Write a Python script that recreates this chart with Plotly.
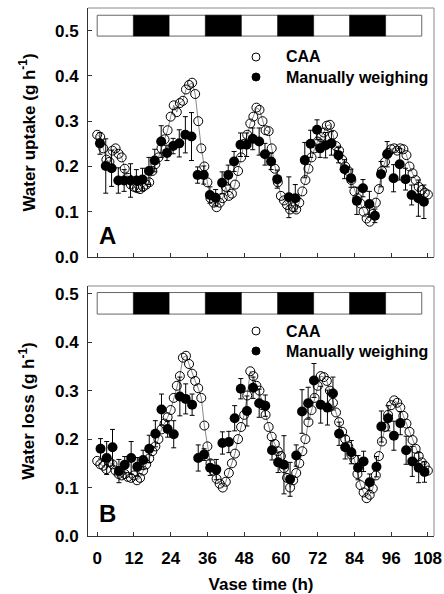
import plotly.graph_objects as go

# ---------------- data ----------------
caa_hours = list(range(0, 109))

caa_uptake = [0.270, 0.265, 0.240, 0.215, 0.210, 0.235, 0.240, 0.228, 0.220, 0.195,
              0.175, 0.160, 0.155, 0.152, 0.150, 0.155, 0.160, 0.165, 0.190, 0.205,
              0.220, 0.240, 0.260, 0.280, 0.310, 0.335, 0.320, 0.340, 0.345, 0.370,
              0.380, 0.385, 0.360, 0.300, 0.240, 0.200, 0.165, 0.130, 0.120, 0.110,
              0.120, 0.130, 0.155, 0.135, 0.140, 0.160, 0.190, 0.220, 0.250, 0.270,
              0.295, 0.310, 0.330, 0.325, 0.300, 0.280, 0.278, 0.240, 0.195, 0.165,
              0.135, 0.125, 0.115, 0.105, 0.110, 0.105, 0.120, 0.145, 0.170, 0.195,
              0.220, 0.240, 0.255, 0.265, 0.275, 0.290, 0.292, 0.270, 0.245, 0.235,
              0.215, 0.200, 0.190, 0.170, 0.145, 0.130, 0.118, 0.100, 0.085, 0.078,
              0.095, 0.120, 0.150, 0.190, 0.210, 0.230, 0.238, 0.240, 0.235, 0.240,
              0.238, 0.225, 0.200, 0.185, 0.170, 0.155, 0.148, 0.142, 0.138]

caa_loss = [0.155, 0.148, 0.145, 0.138, 0.152, 0.148, 0.135, 0.128, 0.125, 0.128,
            0.122, 0.120, 0.125, 0.115, 0.120, 0.135, 0.148, 0.160, 0.175, 0.185,
            0.200, 0.220, 0.232, 0.245, 0.260, 0.285, 0.310, 0.330, 0.368, 0.372,
            0.355, 0.335, 0.320, 0.305, 0.285, 0.228, 0.185, 0.150, 0.135, 0.118,
            0.108, 0.100, 0.112, 0.130, 0.150, 0.170, 0.200, 0.225, 0.250, 0.290,
            0.340, 0.330, 0.310, 0.300, 0.270, 0.250, 0.225, 0.205, 0.190, 0.175,
            0.165, 0.140, 0.120, 0.100, 0.115, 0.130, 0.150, 0.175, 0.200, 0.235,
            0.260, 0.285, 0.310, 0.330, 0.328, 0.320, 0.300, 0.275, 0.255, 0.235,
            0.215, 0.200, 0.185, 0.168, 0.158, 0.128, 0.105, 0.090, 0.078, 0.085,
            0.098, 0.125, 0.165, 0.195, 0.225, 0.250, 0.270, 0.280, 0.275, 0.265,
            0.248, 0.232, 0.215, 0.198, 0.180, 0.165, 0.152, 0.145, 0.135]

man_hours_uptake = [0.9, 2.8, 4.7, 6.9, 8.8, 10.9, 12.8, 14.8, 16.9, 18.8,
                    20.9, 22.8, 24.8, 26.8, 28.8, 30.8, 32.8, 34.8, 36.8, 38.7,
                    40.8, 42.8, 44.7, 46.8, 48.8, 50.8, 52.9, 54.8, 56.8, 58.8,
                    62.6, 64.7, 67.8, 69.7, 71.8, 72.8, 74.6, 76.5, 78.8, 80.8,
                    82.9, 84.8, 86.8, 88.9, 90.7, 92.7, 94.7, 96.8, 98.8, 100.7,
                    102.7, 104.9, 106.7]
man_uptake = [0.251, 0.201, 0.196, 0.169, 0.169, 0.169, 0.169, 0.171, 0.190, 0.213,
              0.255, 0.230, 0.245, 0.251, 0.270, 0.266, 0.181, 0.181, 0.137, 0.131,
              0.164, 0.181, 0.211, 0.248, 0.248, 0.261, 0.255, 0.227, 0.211, 0.172,
              0.132, 0.130, 0.214, 0.250, 0.281, 0.240, 0.247, 0.251, 0.225, 0.194,
              0.174, 0.124, 0.152, 0.117, 0.091, 0.183, 0.227, 0.174, 0.205, 0.172,
              0.137, 0.130, 0.122]
man_uptake_err = [0.024, 0.060, 0.040, 0.028, 0.024, 0.037, 0.024, 0.025, 0.030, 0.025,
                  0.035, 0.017, 0.017, 0.030, 0.040, 0.053, 0.018, 0.020, 0.018, 0.018,
                  0.024, 0.022, 0.022, 0.026, 0.026, 0.024, 0.030, 0.024, 0.018, 0.020,
                  0.045, 0.030, 0.039, 0.030, 0.022, 0.020, 0.028, 0.026, 0.017, 0.021,
                  0.020, 0.030, 0.019, 0.028, 0.015, 0.028, 0.028, 0.030, 0.035, 0.024,
                  0.022, 0.040, 0.037]

man_hours_loss = [1.1, 3.1, 5.0, 7.1, 9.0, 11.1, 13.1, 15.0, 17.0, 19.0,
                  21.0, 23.0, 25.0, 27.0, 28.9, 31.0, 33.0, 34.9, 36.9, 38.9,
                  40.9, 43.0, 44.9, 46.9, 48.9, 50.9, 52.9, 54.9, 57.1, 59.1,
                  61.0, 63.0, 65.0, 66.9, 68.9, 70.8, 73.0, 75.2, 77.0, 79.0,
                  81.0, 83.0, 85.2, 87.0, 89.0, 91.2, 92.8, 95.0, 96.9, 99.0,
                  100.9, 102.9, 105.0, 106.9]
man_loss = [0.180, 0.161, 0.183, 0.134, 0.147, 0.161, 0.143, 0.157, 0.180, 0.211,
            0.261, 0.221, 0.210, 0.288, 0.283, 0.271, 0.161, 0.168, 0.141, 0.137,
            0.192, 0.194, 0.243, 0.304, 0.258, 0.306, 0.274, 0.269, 0.177, 0.152,
            0.147, 0.117, 0.166, 0.257, 0.274, 0.321, 0.271, 0.265, 0.294, 0.211,
            0.183, 0.173, 0.141, 0.154, 0.111, 0.143, 0.226, 0.243, 0.207, 0.233,
            0.177, 0.154, 0.141, 0.132]
man_loss_err = [0.021, 0.034, 0.037, 0.024, 0.017, 0.034, 0.019, 0.020, 0.028, 0.027,
                0.032, 0.017, 0.028, 0.040, 0.031, 0.022, 0.027, 0.012, 0.016, 0.021,
                0.023, 0.022, 0.026, 0.021, 0.031, 0.022, 0.029, 0.022, 0.020, 0.021,
                0.060, 0.035, 0.022, 0.045, 0.033, 0.035, 0.038, 0.036, 0.034, 0.024,
                0.024, 0.024, 0.025, 0.021, 0.017, 0.021, 0.032, 0.026, 0.030, 0.024,
                0.029, 0.031, 0.031, 0.021]

series_names = ["CAA", "Manually weighing"]

# light/dark period boundaries (h); odd segments are dark
period_edges = [0, 11.8, 23.5, 35.3, 47.1, 58.9, 70.7, 82.4, 94.2, 106.0]
x_ticks = [0, 12, 24, 36, 48, 60, 72, 84, 96, 108]
y_ticks = [0.0, 0.1, 0.2, 0.3, 0.4, 0.5]

# ---------------- figure ----------------
FONT = "Liberation Sans, Arial, sans-serif"
fig = go.Figure()

panels = [
    dict(xa="x", ya="y", caa=caa_uptake, mx=man_hours_uptake, my=man_uptake,
         me=man_uptake_err, bar=(0.488, 0.534), letter="A", leg_y=(57, 77)),
    dict(xa="x2", ya="y2", caa=caa_loss, mx=man_hours_loss, my=man_loss,
         me=man_loss_err, bar=(0.458, 0.5025), letter="B", leg_y=(331, 351)),
]

# plot-area geometry (pixels) used for legend placement
L, T, PW, PH = 88, 8, 346, 528


def px_x(px):
    return (px - L) / PW


def px_y(py):
    return (T + PH - py) / PH


for p in panels:
    fig.add_trace(go.Scatter(x=caa_hours, y=p["caa"], mode="lines",
                             line=dict(color="#555555", width=0.7),
                             xaxis=p["xa"], yaxis=p["ya"], showlegend=False,
                             hoverinfo="skip"))
    fig.add_trace(go.Scatter(x=caa_hours, y=p["caa"], mode="markers",
                             name=series_names[0], showlegend=False,
                             marker=dict(symbol="circle-open", size=9,
                                         color="black", line=dict(width=1)),
                             xaxis=p["xa"], yaxis=p["ya"]))
    fig.add_trace(go.Scatter(x=p["mx"], y=p["my"], mode="markers",
                             name=series_names[1], showlegend=False,
                             marker=dict(symbol="circle", size=10, color="black"),
                             error_y=dict(type="data", array=p["me"], color="black",
                                          thickness=1, width=2.5),
                             xaxis=p["xa"], yaxis=p["ya"]))
    # light/dark bar
    y0, y1 = p["bar"]
    fig.add_shape(type="rect", xref=p["xa"], yref=p["ya"],
                  x0=period_edges[0], x1=period_edges[-1], y0=y0, y1=y1,
                  fillcolor="white", line=dict(color="#666666", width=1), layer="above")
    for i in range(1, len(period_edges) - 1, 2):
        fig.add_shape(type="rect", xref=p["xa"], yref=p["ya"],
                      x0=period_edges[i], x1=period_edges[i + 1], y0=y0, y1=y1,
                      fillcolor="black", line=dict(color="black", width=0.5),
                      layer="above")
    # top and right frame lines (grey)
    xd = p["xa"] + " domain"
    yd = p["ya"] + " domain"
    fig.add_shape(type="line", xref=xd, yref=yd, x0=0, x1=1, y0=1, y1=1,
                  line=dict(color="#888888", width=1))
    fig.add_shape(type="line", xref=xd, yref=yd, x0=1, x1=1, y0=0, y1=1,
                  line=dict(color="#888888", width=1))
    # panel letter
    fig.add_annotation(text=p["letter"], xref=xd, yref=yd, x=0.026, y=0.088,
                       xanchor="left", yanchor="middle", showarrow=False,
                       font=dict(family=FONT, size=24, color="black", weight="bold"))
    # legend keys (open / filled circle) and labels
    for k, (name, py) in enumerate(zip(series_names, p["leg_y"])):
        fig.add_shape(type="circle", xref="paper", yref="paper",
                      xsizemode="pixel", ysizemode="pixel",
                      xanchor=px_x(256), yanchor=px_y(py),
                      x0=-4, x1=4, y0=-4, y1=4,
                      fillcolor="white" if k == 0 else "black",
                      line=dict(color="black", width=1))
        fig.add_annotation(text=name, xref="paper", yref="paper",
                           x=px_x(284), y=px_y(py), xanchor="left",
                           yanchor="middle", showarrow=False,
                           font=dict(family=FONT, size=16, color="black",
                                     weight="bold"))

tick_font = dict(family=FONT, size=17, color="black", weight="bold")
axis_common = dict(
    range=[-3, 110], tickvals=x_ticks, ticks="inside", ticklen=4,
    tickcolor="#333333", showline=True, linecolor="#333333", linewidth=1,
    showgrid=False, zeroline=False, automargin=False, tickfont=tick_font,
)
yaxis_common = dict(
    tickvals=y_ticks, tickformat=".1f", ticks="inside", ticklen=4,
    tickcolor="#333333", showline=True, linecolor="#333333", linewidth=1,
    showgrid=False, zeroline=False, ticklabelstandoff=5, automargin=False,
    tickfont=tick_font,
)

title_font = dict(family=FONT, size=17, color="black", weight="bold")

fig.update_layout(
    width=444, height=594,
    margin=dict(l=L, r=444 - L - PW, t=T, b=594 - T - PH),
    plot_bgcolor="white", paper_bgcolor="white",
    showlegend=False,
    xaxis=dict(axis_common, anchor="y", showticklabels=False),
    yaxis=dict(yaxis_common, domain=[0.5284, 1.0], range=[0, 0.55], anchor="x",
               title=dict(text="Water uptake (g h<sup>-1</sup>)", font=title_font,
                          standoff=15)),
    xaxis2=dict(axis_common, anchor="y2", ticklabelstandoff=7,
                title=dict(text="Vase time (h)", font=title_font, standoff=15)),
    yaxis2=dict(yaxis_common, domain=[0.0, 0.4735], range=[0, 0.516], anchor="x2",
                title=dict(text="Water loss (g h<sup>-1</sup>)", font=title_font,
                           standoff=15)),
)

fig.write_html(
    "out.html",
    config={"displayModeBar": False},
    post_script="document.body.style.margin='0';document.body.style.overflow='hidden';",
)
